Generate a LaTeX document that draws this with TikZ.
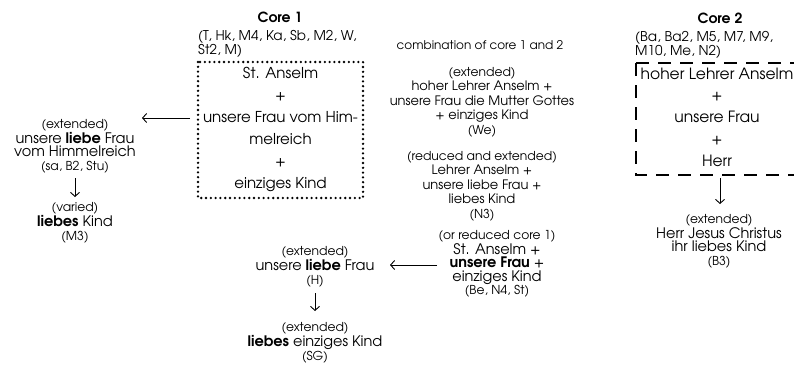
\documentclass[tikz,border=0pt]{standalone}
\usepackage{fontspec}
\setmainfont{TeX Gyre Adventor}
\usetikzlibrary{arrows.meta}
\newcommand\smtx[1]{{\fontsize{12.3}{13.5}\selectfont #1}}
\begin{document}
\begin{tikzpicture}[x=1pt,y=-1pt,
  txt/.style={align=center, inner sep=0pt, font=\fontsize{14.5}{13.5}\selectfont},
  mtxt/.style={align=center, inner sep=0pt, font=\fontsize{13}{14.5}\selectfont},
  lst/.style={align=left, inner sep=0pt, anchor=north west, font=\fontsize{13.5}{10.5}\selectfont},
  ttl/.style={inner sep=0pt, font=\fontsize{14}{16}\selectfont\bfseries},
  boxtxt/.style={align=center, inner sep=0pt, font=\fontsize{15}{22}\selectfont},
  boxtxtb/.style={align=center, inner sep=0pt, font=\fontsize{15.5}{21.8}\selectfont},
  dotbox/.style={draw, line width=2.6pt, line cap=round, dash pattern=on 0pt off 4.8pt},
  dashbox/.style={draw, line width=2.8pt, dash pattern=on 13pt off 9pt},
  arr/.style={line width=0.9pt, -{Straight Barb[length=4pt,width=9pt]}}
]
\useasboundingbox (0,0) rectangle (794,369);

% Core 1
\node[ttl] (c1t) at (280,17) {Core 1};
\node[lst] (c1l) at (198,30) {(T, Hk, M4, Ka, Sb, M2, W,\\St2, M)};
\draw[dotbox] (198,62) rectangle (363,198);
\node[boxtxt] (c1) at (280.5,129) {St. Anselm\\+\\unsere Frau vom Him-\\melreich\\+\\einziges Kind};
\coordinate (c1w) at (190,118);

% left
\node[txt] (l1) at (75,146) {\smtx{(extended)}\\unsere \textbf{liebe} Frau\\vom Himmelreich\\\smtx{(sa, B2, Stu)}};
\node[txt] (l2) at (75,223) {\smtx{(varied)}\\\textbf{liebes} Kind\\\smtx{(M3)}};
\coordinate (l1e) at (142,118);
\coordinate (l1s) at (75,178);
\coordinate (l2n) at (75,197);
\draw[arr] (c1w) -- (l1e);
\draw[arr] (l1s) -- (l2n);

% middle
\node[mtxt] (comb) at (480,45) {\fontsize{12}{14}\selectfont combination of core 1 and 2};
\node[mtxt] (we) at (482,102) {\smtx{(extended)}\\hoher Lehrer Anselm +\\unsere Frau die Mutter Gottes\\+ einziges Kind\\\smtx{(We)}};
\node[mtxt] (n3) at (482,186) {\smtx{(reduced and extended)}\\Lehrer Anselm +\\unsere liebe Frau +\\liebes Kind\\\smtx{(N3)}};
\node[txt] (be) at (497,264) {\smtx{(or reduced core 1)}\\St. Anselm +\\\textbf{unsere Frau} +\\einziges Kind\\\smtx{(Be, N4, St)}};
\coordinate (bew) at (437,265);
\coordinate (hE) at (390,265);
\draw[arr] (bew) -- (hE);

\node[txt] (h) at (315,267) {\smtx{(extended)}\\unsere \textbf{liebe} Frau\\\smtx{(H)}};
\node[txt] (sg) at (315,343) {\smtx{(extended)}\\\textbf{liebes} einziges Kind\\\smtx{(SG)}};
\coordinate (hs) at (315,293);
\coordinate (sgn) at (315,311);
\draw[arr] (hs) -- (sgn);

% Core 2
\node[ttl] (c2t) at (720,18) {Core 2};
\node[lst] (c2l) at (635,31) {(Ba, Ba2, M5, M7, M9,\\M10, Me, N2)};
\draw[dashbox] (636,63) -- (636,175) -- (812,175) (636,63) -- (812,63);
\node[boxtxtb] (c2) at (717,117) {hoher Lehrer Anselm\\+\\unsere Frau\\+\\Herr};
\coordinate (c2s) at (720,178);
\coordinate (b3n) at (720,204);
\draw[arr] (c2s) -- (b3n);
\node[txt] (b3) at (719,241) {\smtx{(extended)}\\Herr Jesus Christus\\ihr liebes Kind\\\smtx{(B3)}};
\end{tikzpicture}
\end{document}
